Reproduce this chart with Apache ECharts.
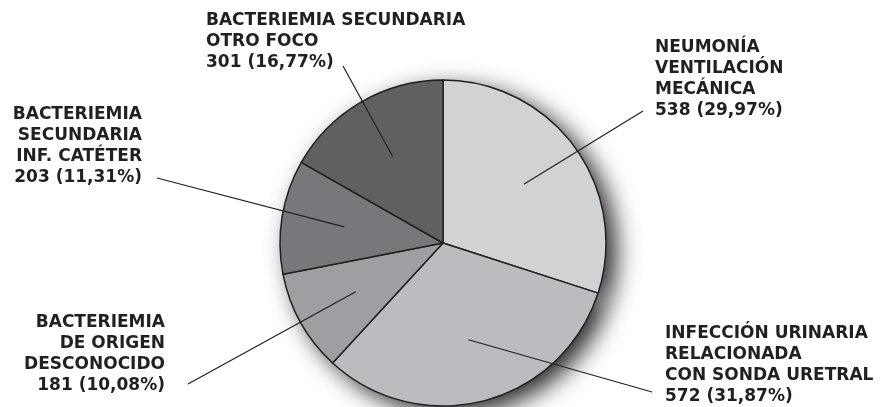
<!DOCTYPE html>
<html>
<head>
<meta charset="utf-8">
<script src="https://cdn.jsdelivr.net/npm/echarts@6/dist/echarts.min.js"></script>
<style>
  html, body { margin: 0; padding: 0; background: #fff; }
  #chart { width: 880px; height: 407px; }
</style>
</head>
<body>
<div id="chart"></div>
<script>
const categories = [
  'NEUMONÍA\nVENTILACIÓN\nMECÁNICA',
  'INFECCIÓN URINARIA\nRELACIONADA\nCON SONDA URETRAL',
  'BACTERIEMIA\nDE ORIGEN\nDESCONOCIDO',
  'BACTERIEMIA\nSECUNDARIA\nINF. CATÉTER',
  'BACTERIEMIA SECUNDARIA\nOTRO FOCO'
]
const counts = [538, 572, 181, 203, 301]
const colors = ['#d1d2d4', '#bbbcbf', '#9e9fa2', '#77787b', '#606062']

// where each label block sits, and where its leader line ends
const labelPos = [
  { x: 655, y: 37, align: 'left', end: [643, 111] },
  { x: 665, y: 323, align: 'left', end: [652, 392] },
  { x: 165, y: 312, align: 'right', end: [188, 384] },
  { x: 142, y: 104, align: 'right', end: [157, 178] },
  { x: 206, y: 10, align: 'left', end: [343, 66] }
]

const total = counts.reduce((a, b) => a + b, 0)
const ink = '#231f20'
const center = [443, 243]

const pieData = categories.map((name, i) => ({
  name,
  value: counts[i],
  itemStyle: { color: colors[i] }
}))

const chart = echarts.init(document.getElementById('chart'), null, { renderer: 'canvas' })
chart.setOption({
  animation: false,
  series: [
    {
      // shadow underneath
      type: 'pie',
      z: 1,
      silent: true,
      center,
      radius: 163,
      startAngle: 90,
      label: { show: false },
      labelLine: { show: false },
      itemStyle: {
        color: '#666',
        shadowColor: 'rgba(0,0,0,0.85)',
        shadowBlur: 24,
        shadowOffsetX: 10,
        shadowOffsetY: 8
      },
      data: counts.map(v => ({ value: v }))
    },
    {
      type: 'pie',
      z: 2,
      silent: true,
      center,
      radius: 163,
      startAngle: 90,
      label: { show: false },
      labelLine: { show: false },
      itemStyle: { borderColor: ink, borderWidth: 1.5 },
      data: pieData
    },
    {
      // invisible inner ring only used to anchor the labels and leader lines
      type: 'pie',
      z: 3,
      silent: true,
      center,
      radius: 100,
      startAngle: 90,
      avoidLabelOverlap: false,
      itemStyle: { color: 'rgba(0,0,0,0)' },
      label: {
        show: true,
        position: 'outside',
        fontFamily: 'DejaVu Sans',
        fontWeight: 'bold',
        fontSize: 17,
        lineHeight: 21,
        color: ink,
        formatter: p => {
          const pct = (counts[p.dataIndex] / total * 100).toFixed(2).replace('.', ',')
          return p.name + '\n' + counts[p.dataIndex] + ' (' + pct + '%)'
        }
      },
      labelLine: { show: true, length: 10, length2: 0, lineStyle: { color: ink, width: 1.2 } },
      labelLayout: params => {
        const lp = labelPos[params.dataIndex]
        const start = params.labelLinePoints[0]
        return {
          x: lp.x,
          y: lp.y,
          align: lp.align,
          verticalAlign: 'top',
          labelLinePoints: [[start[0], start[1]], lp.end.slice(), lp.end.slice()]
        }
      },
      data: pieData.map(d => ({ name: d.name, value: d.value }))
    }
  ]
})
</script>
</body>
</html>
